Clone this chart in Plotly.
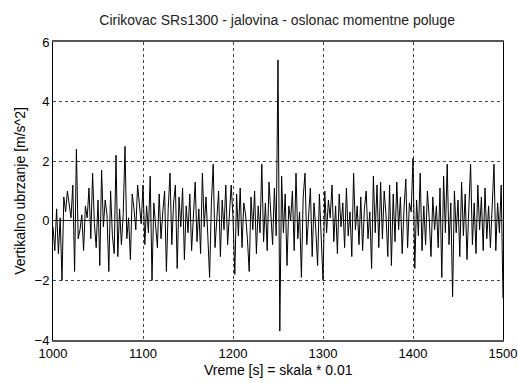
import plotly.graph_objects as go

x_start = 1000
x_step = 2
accel = [
    -0.2, -1.0, 0.4, -1.1, 0.1, -2.0, 0.8, 0.3, 1.0, 0.5, 0.1, 1.2, -1.7, 2.4, -0.6, -0.3, 0.2, -1.0, 0.5, 0.1, 1.1, -0.6, 1.6, -0.1, -0.9,
    0.7, -1.5, 1.7, -0.2, 0.7, 0.2, -1.7, 1.0, -0.5, -1.1, 2.2, -1.2, 0.4, -0.8, 0.2, 2.5, -0.6, 0.1, -1.3, 0.9, 0.4, -0.3, 1.2, 0.6, -0.1,
    1.2, -0.8, 0.5, -0.4, 1.5, -2.0, 0.6, -0.3, -0.9, 0.9, -0.6, 0.3, 1.0, -1.7, 0.4, 1.6, -0.8, 0.6, 1.2, -1.6, 0.8, -0.2, 1.1, -1.3, 0.5,
    -0.4, 0.9, -1.0, 0.3, 1.3, -0.7, 0.4, -1.1, 1.6, -0.2, 0.8, -0.5, -1.9, 0.6, 1.9, -0.9, 0.2, 1.0, -1.2, 0.7, -0.3, 1.2, -0.8, 0.4, 1.2,
    0.1, -1.8, 0.9, -0.5, 1.1, -0.9, 0.6, 0.2, -0.6, -1.7, 0.8, -0.3, 1.0, -1.1, 0.5, -0.4, 1.9, -0.7, 0.6, -1.0, 1.3, 0.2, -0.8, 1.1, -0.5,
    5.4, -3.7, 1.5, -0.4, 0.9, -1.5, 0.5, 0.0, 1.0, -1.0, 1.6, -0.6, 0.3, -1.9, 0.8, 1.6, -0.8, 0.4, 1.1, -1.2, 0.6, -0.3, -1.5, 0.9, -0.6,
    -2.0, 1.0, -0.4, 0.7, 0.1, 1.2, -0.7, 0.5, -1.1, 0.9, -0.2, 0.6, -0.9, 1.1, -0.5, 0.3, -1.2, 1.6, -0.3, 0.5, -0.8, 0.8, -1.0, 0.4, 1.0,
    -0.6, 0.3, -1.6, 1.5, -0.4, 1.2, -0.9, 1.3, -0.6, 1.0, 0.2, -1.2, 1.2, -1.5, 0.9, -0.7, 1.3, -0.3, 0.8, -1.1, 0.4, 1.4, -0.9, 0.6, 0.3,
    2.1, -1.6, 0.7, -0.5, 1.6, -1.0, 0.5, -0.8, 1.0, 0.1, -1.2, 0.8, -0.3, 0.5, -0.9, 1.1, -1.9, 1.5, -0.4, 1.9, -0.8, 0.6, -2.55, 1.0, -0.4,
    0.7, -1.2, 1.3, -0.5, 0.9, -1.3, 0.4, 1.9, -0.8, 0.6, -1.1, 1.2, -0.3, 0.8, -1.0, 1.1, -0.6, 0.5, -0.9, 0.3, 1.9, -1.0, 0.6, -0.4, 1.2, -2.6,
]
time = [x_start + i * x_step for i in range(len(accel))]

x_ticks = [1000, 1100, 1200, 1300, 1400, 1500]
y_ticks = [-4, -2, 0, 2, 4, 6]

fig = go.Figure()
fig.add_trace(go.Scatter(x=time, y=accel, mode="lines",
                         line=dict(color="black", width=1), showlegend=False))

font = "Liberation Sans, Arial, sans-serif"
fig.update_layout(
    width=518, height=383,
    margin=dict(l=53, r=15, t=42, b=43, autoexpand=False),
    paper_bgcolor="white", plot_bgcolor="white",
    title=dict(text="Cirikovac SRs1300 - jalovina - oslonac momentne poluge",
               x=0.535, xanchor="center", y=0.948, yanchor="middle",
               font=dict(family=font, size=14, color="#222")),
    font=dict(family=font, color="black"),
    annotations=[dict(text="Vreme [s] = skala * 0.01", xref="paper", yref="paper",
                      x=0.5, y=-0.10, xanchor="center", yanchor="middle",
                      showarrow=False, font=dict(family=font, size=14, color="black"))],
)
fig.update_xaxes(range=[1000, 1500], tickvals=x_ticks, ticks="", automargin=False,
                 tickfont=dict(size=13, color="black"),
                 showgrid=True, gridcolor="#444", griddash="dot", gridwidth=1,
                 showline=True, linecolor="#555", linewidth=2, mirror=True,
                 zeroline=False)
fig.update_yaxes(range=[-4, 6], tickvals=y_ticks, ticks="", automargin=False,
                 tickfont=dict(size=13, color="black"),
                 showgrid=True, gridcolor="#444", griddash="dot", gridwidth=1,
                 showline=True, linecolor="black", linewidth=1, mirror=True,
                 zeroline=True, zerolinecolor="#222", zerolinewidth=1,
                 title=dict(text="Vertikalno ubrzanje [m/s^2]", font=dict(size=14), standoff=5))

fig.write_html("out.html")
